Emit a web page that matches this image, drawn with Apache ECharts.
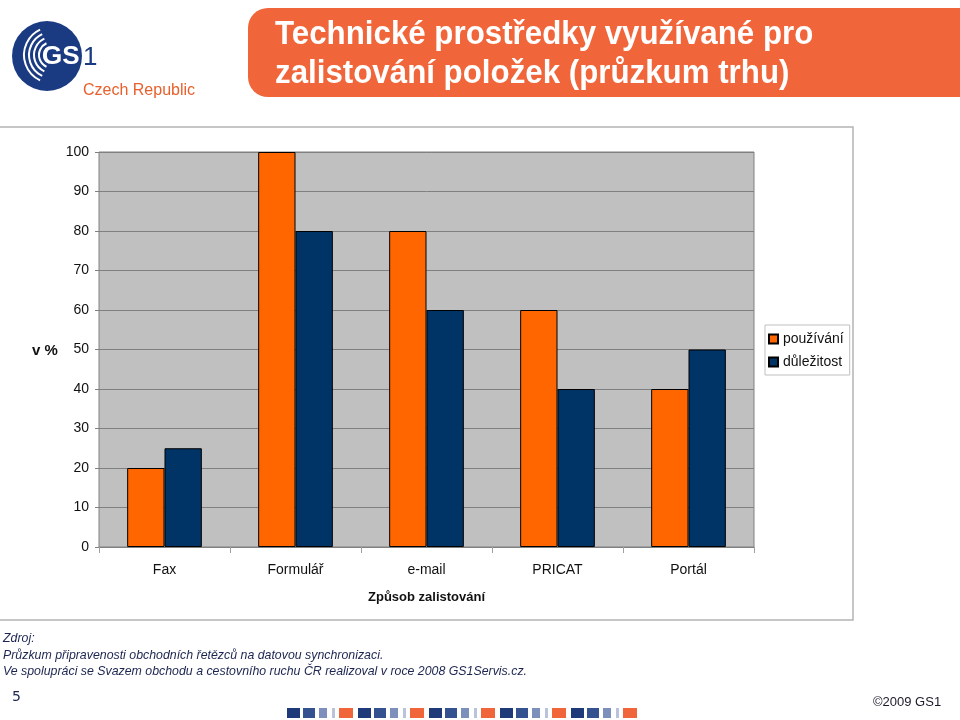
<!DOCTYPE html>
<html><head><meta charset="utf-8">
<script src="https://cdn.jsdelivr.net/npm/echarts@6/dist/echarts.min.js"></script>
<style>html,body{margin:0;padding:0;background:#fff}#c{width:960px;height:720px}</style>
</head><body><div id="c"></div>
<script>
// ---- data ----
const categories = ['Fax', 'Formulář', 'e-mail', 'PRICAT', 'Portál'];
const usage = [20, 100, 80, 60, 40];        // používání
const importance = [25, 80, 60, 40, 50];    // důležitost
const seriesNames = ['používání', 'důležitost'];
const yMin = 0, yMax = 100, yStep = 10;
const titleLines = ['Technické prostředky využívané pro', 'zalistování položek (průzkum trhu)'];
const xAxisName = 'Způsob zalistování';
const yAxisName = 'v %';
const sourceLines = ['Zdroj:', 'Průzkum připravenosti obchodních řetězců na datovou synchronizaci.',
  'Ve spolupráci se Svazem obchodu a cestovního ruchu ČR realizoval v roce 2008 GS1Servis.cz.'];

// ---- styles ----
const ORANGE = '#ff6600', NAVY = '#003366', BANNER = '#f0653a', FONT = '"Liberation Sans", Arial, sans-serif';
const FOOT = '#1c2550';
const LOGO = '#1a3a82';

const chart = echarts.init(document.getElementById('c'), null, {renderer: 'canvas'});

// footer decoration squares
const deco = [];
const navyShades = ['#1f3a78', '#34528f', '#7d8fbb', '#b9c3dc'];
function addRect(x, w, c) { deco.push({type: 'rect', shape: {x: x, y: 708, width: w, height: 10}, style: {fill: c}, silent: true}); }
for (let g = 0; g < 5; g++) {
  const x0 = 287 + g * 71;
  addRect(x0, 13, navyShades[0]);
  addRect(x0 + 16, 12, navyShades[1]);
  addRect(x0 + 32, 8, navyShades[2]);
  addRect(x0 + 45, 3, navyShades[3]);
  addRect(x0 + 52, 14, BANNER);
}

// logo arcs
const arcs = [];
[8, 13, 18, 23, 28].forEach(function (r) {
  arcs.push({type: 'arc', shape: {cx: 52, cy: 55, r: r, startAngle: Math.PI * 0.64, endAngle: Math.PI * 1.36}, style: {stroke: '#fff', lineWidth: 2, fill: null}, silent: true});
});

const option = {
  backgroundColor: '#ffffff',
  animation: false,
  textStyle: {fontFamily: FONT},
  grid: {left: 99, right: 206, top: 152, bottom: 173, show: true, backgroundColor: '#c0c0c0', borderColor: '#808080', borderWidth: 1},
  legend: {
    orient: 'vertical', left: 765, top: 325, data: seriesNames,
    backgroundColor: '#fff', borderColor: '#bfbfbf', borderWidth: 1,
    padding: [7, 6, 6, 3], itemWidth: 9, itemHeight: 9, itemGap: 9, icon: 'rect',
    textStyle: {fontSize: 14, color: '#111', fontFamily: FONT, lineHeight: 14}
  },
  xAxis: {
    type: 'category', data: categories,
    name: xAxisName, nameLocation: 'middle', nameGap: 44,
    nameTextStyle: {fontSize: 13, fontWeight: 'bold', color: '#111', fontFamily: FONT},
    axisLine: {show: true, lineStyle: {color: '#808080'}},
    axisTick: {show: true, length: 6, lineStyle: {color: '#a0a0a0'}},
    axisLabel: {fontSize: 14, color: '#111', margin: 16, fontFamily: FONT},
    splitLine: {show: false}
  },
  yAxis: {
    type: 'value', min: yMin, max: yMax, interval: yStep,
    axisLine: {show: false},
    axisTick: {show: true, length: 4, lineStyle: {color: '#808080'}},
    axisLabel: {fontSize: 14, color: '#111', margin: 10, fontFamily: FONT},
    splitLine: {show: true, lineStyle: {color: '#808080', width: 1}}
  },
  series: [
    {name: seriesNames[0], type: 'bar', data: usage, barGap: '0%', barCategoryGap: '43%',
     itemStyle: {color: ORANGE, borderColor: '#000', borderWidth: 1}},
    {name: seriesNames[1], type: 'bar', data: importance, barGap: '0%', barCategoryGap: '43%',
     itemStyle: {color: NAVY, borderColor: '#000', borderWidth: 1}}
  ],
  graphic: [
    // chart frame
    {type: 'rect', shape: {x: -2, y: 127, width: 855, height: 493}, style: {fill: null, stroke: '#b4b4b4', lineWidth: 1.5}, silent: true, z: -1},
    // title banner
    {type: 'rect', shape: {x: 248, y: 8, width: 730, height: 89, r: [20, 0, 0, 20]}, style: {fill: BANNER}, silent: true},
    {type: 'text', x: 275, y: 18, scaleX: 0.92, style: {text: titleLines[0], font: 'bold 34px ' + FONT, fill: '#fff', verticalAlign: 'top'}, silent: true},
    {type: 'text', x: 275, y: 57, scaleX: 0.92, style: {text: titleLines[1], font: 'bold 34px ' + FONT, fill: '#fff', verticalAlign: 'top'}, silent: true},
    // logo
    {type: 'circle', shape: {cx: 47, cy: 56, r: 35}, style: {fill: LOGO}, silent: true}
  ].concat(arcs).concat([
    {type: 'text', x: 42, y: 57, style: {text: 'GS', font: 'bold 26px ' + FONT, fill: '#fff', verticalAlign: 'middle'}, silent: true},
    {type: 'text', x: 83, y: 58, style: {text: '1', font: '26px ' + FONT, fill: LOGO, verticalAlign: 'middle'}, silent: true},
    {type: 'text', x: 83, y: 91, style: {text: 'Czech Republic', font: '16px ' + FONT, fill: '#e8602c', verticalAlign: 'middle'}, silent: true},
    // y axis name
    {type: 'text', x: 45, y: 351, style: {text: yAxisName, font: 'bold 15px ' + FONT, fill: '#111', align: 'center', verticalAlign: 'middle'}, silent: true},
    // source
    {type: 'text', x: 3, y: 638, scaleX: 0.95, style: {text: sourceLines[0], font: 'italic 13px ' + FONT, fill: FOOT, verticalAlign: 'middle'}, silent: true},
    {type: 'text', x: 3, y: 655, scaleX: 0.95, style: {text: sourceLines[1], font: 'italic 13px ' + FONT, fill: FOOT, verticalAlign: 'middle'}, silent: true},
    {type: 'text', x: 3, y: 671, scaleX: 0.95, style: {text: sourceLines[2], font: 'italic 13px ' + FONT, fill: FOOT, verticalAlign: 'middle'}, silent: true},
    {type: 'text', x: 12, y: 697, style: {text: '5', font: '14px "DejaVu Sans", sans-serif', fill: FOOT, verticalAlign: 'middle'}, silent: true},
    {type: 'text', x: 873, y: 702, style: {text: '©2009 GS1', font: '13px ' + FONT, fill: '#1a1a2a', verticalAlign: 'middle'}, silent: true}
  ]).concat(deco)
};
chart.setOption(option);
</script>
</body></html>
